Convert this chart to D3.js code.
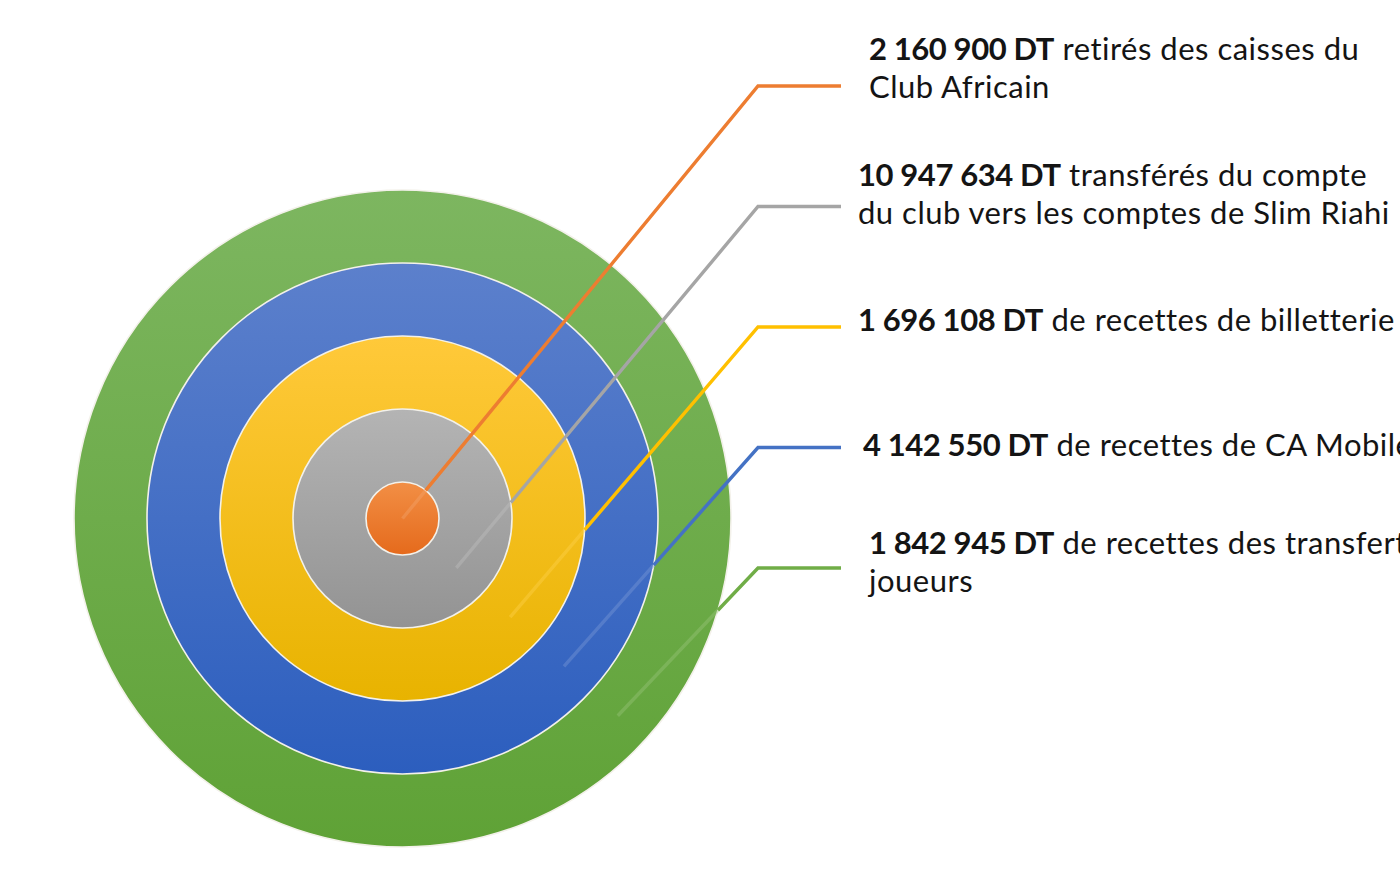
<!DOCTYPE html>
<html><head><meta charset="utf-8">
<script src="https://cdn.jsdelivr.net/npm/d3@7"></script>
<style>body{margin:0;background:#fff;overflow:hidden}svg{display:block}</style>
</head><body>
<svg id="c" width="1400" height="875"></svg>
<script>
// ---- data ----
const categories = ["Caisses du Club Africain", "Transferts vers Slim Riahi", "Billetterie", "CA Mobile", "Transferts de joueurs"];
const values = [2160900, 10947634, 1696108, 4142550, 1842945];
const descLine1 = ["retirés des caisses du", "transférés du compte", "de recettes de billetterie", "de recettes de CA Mobile", "de recettes des transferts de"];
const descLine2 = ["Club Africain", "du club vers les comptes de Slim Riahi", "", "", "joueurs"];
const colors = ["#ED7D31", "#A5A5A5", "#FFC000", "#4472C4", "#70AD47"];
const gradTop = ["#f28f45", "#b4b4b4", "#ffc93a", "#5c80cc", "#7db660"];
const gradBottom = ["#e56a1c", "#939393", "#e8b300", "#2c5ebe", "#5fa236"];

// ---- layout ----
const W = 1400, H = 875;
const cx = 402.5, cy = 518.5;
const labelX = [869, 858, 858, 863, 869];
const labelBase = [60, 186, 331, 456, 554];
const lineH = 38;
const elbowX = 758, endX = 841;
const innerAngle = 42.5 * Math.PI / 180;

const svg = d3.select("#c");
const defs = svg.append("defs");
const fr = d3.formatLocale({decimal: ",", thousands: "\u00a0", grouping: [3], currency: ["", " DT"]});
const fmt = fr.format(",d");

const ring = d3.scaleLinear().domain([0, 5]).range([0, 365]); // outer radius of ring i = ring(i+0.5)
const elbowY = d3.scaleLinear().domain([0, 4]).range([86, 568]);

const idx = d3.range(values.length);

idx.forEach(i => {
  const g = defs.append("linearGradient").attr("id", "g" + i)
    .attr("x1", 0).attr("y1", 0).attr("x2", 0).attr("y2", 1);
  g.append("stop").attr("offset", "0%").attr("stop-color", gradTop[i]);
  g.append("stop").attr("offset", "100%").attr("stop-color", gradBottom[i]);
});

// circles, outer first
svg.append("g").selectAll("circle")
  .data(idx.slice().reverse())
  .join("circle")
  .attr("cx", cx).attr("cy", cy)
  .attr("r", i => ring(i + 0.5))
  .attr("fill", i => `url(#g${i})`)
  .attr("stroke", "#f3f1ea").attr("stroke-width", 1.6);

// leader lines
function edgePoint(p0, p1, r) {
  const dx = p1[0] - p0[0], dy = p1[1] - p0[1];
  const fx = p0[0] - cx, fy = p0[1] - cy;
  const a = dx * dx + dy * dy, b = 2 * (fx * dx + fy * dy), c = fx * fx + fy * fy - r * r;
  const t = (-b + Math.sqrt(b * b - 4 * a * c)) / (2 * a);
  return [p0[0] + t * dx, p0[1] + t * dy];
}
const lg = svg.append("g").attr("fill", "none").attr("stroke-width", 3.4).attr("stroke-linejoin", "miter");
idx.forEach(i => {
  const rOut = ring(i + 0.5);
  const rIn = ring(i + 0.5) - ring(0.5);
  const p0 = [cx + rIn * Math.cos(innerAngle), cy + rIn * Math.sin(innerAngle)];
  const elbow = [elbowX, elbowY(i)];
  const e = edgePoint(p0, elbow, rOut);
  lg.append("path")
    .attr("d", d3.line()([p0, e]))
    .attr("stroke", d3.interpolateRgb(colors[i], "#ffffff")(0.3))
    .attr("stroke-opacity", 0.4);
  lg.append("path")
    .attr("d", d3.line()([e, elbow, [endX, elbowY(i)]]))
    .attr("stroke", colors[i]);
});

// labels
const tg = svg.append("g")
  .attr("font-family", "Lato, 'Open Sans', sans-serif")
  .attr("font-size", 31).attr("letter-spacing", 0.5).attr("fill", "#141414");
idx.forEach(i => {
  const t = tg.append("text").attr("x", labelX[i]).attr("y", labelBase[i]);
  t.append("tspan").attr("font-weight", "bold").attr("letter-spacing", -0.4).text(fmt(values[i]) + "\u00a0DT");
  t.append("tspan").text(" " + descLine1[i]);
  if (descLine2[i]) {
    tg.append("text").attr("x", labelX[i]).attr("y", labelBase[i] + lineH).text(descLine2[i]);
  }
});
</script>
</body></html>
